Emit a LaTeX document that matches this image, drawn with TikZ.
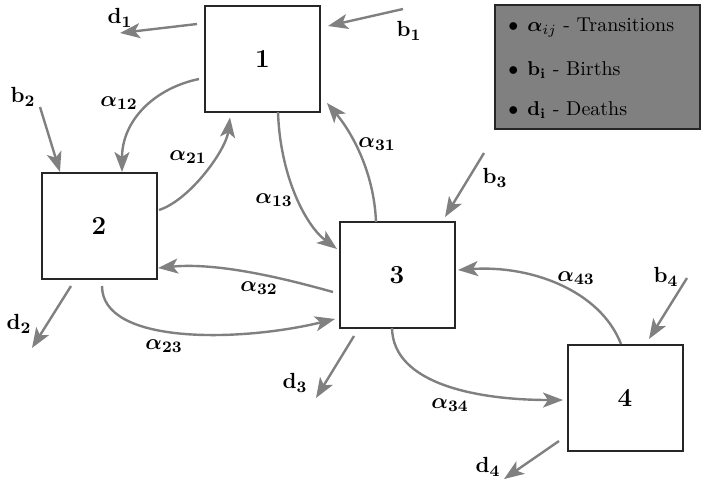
\documentclass[tikz,border=0pt]{standalone}
\usepackage{amsmath}
\usetikzlibrary{arrows.meta,calc}
\begin{document}
\begin{tikzpicture}[x=0.5pt,y=-0.5pt,
  box/.style={draw=black!85,line width=1pt,fill=white,minimum width=57.5pt,minimum height=53pt,inner sep=0pt,font=\fontsize{13}{15}\selectfont\bfseries},
  flow/.style={draw=black!50,line width=1.2pt,-{Stealth[length=10pt,width=7.5pt,inset=2.5pt]}},
  lab/.style={inner sep=0pt,font=\fontsize{11}{13}\selectfont},
  legendbox/.style={draw=black!85,line width=1pt,fill=black!50,minimum width=102.5pt,minimum height=62pt,inner sep=0pt},
  legitem/.style={anchor=west,inner sep=0pt,font=\fontsize{10}{12}\selectfont}]
\useasboundingbox (0,0) rectangle (706,484);
% boxes
\node[box] (n1) at (262.5,58.5) {1};
\node[box] (n2) at (99,226) {2};
\node[box] (n3) at (397,275) {3};
\node[box] (n4) at (625,398) {4};
% legend
\node[legendbox] (leg) at (597,67) {};
\node[legitem] (l1) at (508,28) {\makebox[9.5pt][l]{$\bullet$}$\boldsymbol{\alpha}_{ij}$ - Transitions};
\node[legitem] (l2) at (508,70) {\makebox[9.5pt][l]{$\bullet$}$\mathbf{b_i}$ - Births};
\node[legitem] (l3) at (508,110) {\makebox[9.5pt][l]{$\bullet$}$\mathbf{d_i}$ - Deaths};
% free ends
\coordinate (d1e) at (120,33);
\coordinate (b1s) at (403,9);
\coordinate (b2s) at (40,107);
\coordinate (b3s) at (484,153);
\coordinate (d2e) at (32,348);
\coordinate (d3e) at (316,398);
\coordinate (b4s) at (687,278);
\coordinate (d4e) at (504,479);
% births and deaths
\draw[flow] ($(n1.center)+(-65.5,-34.5)$) -- (d1e);
\draw[flow] (b1s) -- ($(n1.center)+(65.5,-32.5)$);
\draw[flow] (b2s) -- ($(n2.center)+(-39,-54)$);
\draw[flow] (b3s) -- ($(n3.center)+(48,-58)$);
\draw[flow] ($(n2.center)+(-28,60)$) -- (d2e);
\draw[flow] ($(n3.center)+(-43,61)$) -- (d3e);
\draw[flow] (b4s) -- ($(n4.center)+(24,-59)$);
\draw[flow] ($(n4.center)+(-66,43)$) -- (d4e);
% transitions
\draw[flow] ($(n1.center)+(-63.5,20.5)$) .. controls +(-44,9) and +(0,-52) .. ($(n2.center)+(23,-54)$);
\draw[flow] ($(n2.center)+(60,-16)$) .. controls +(31,-10) and +(-4,32.5) .. ($(n1.center)+(-32.5,59)$);
\draw[flow] ($(n1.center)+(15.5,53.5)$) .. controls +(2,63) and +(-32,-24) .. ($(n3.center)+(-60,-26)$);
\draw[flow] ($(n3.center)+(-21,-53)$) .. controls +(-2,-52) and +(23,27) .. ($(n1.center)+(64.5,44.5)$);
\draw[flow] ($(n3.center)+(-64,17)$) .. controls +(-43,-12) and +(62,-6) .. ($(n2.center)+(59,42)$);
\draw[flow] ($(n2.center)+(3,60)$) .. controls +(0,59) and +(-95,23) .. ($(n3.center)+(-62,44)$);
\draw[flow] ($(n3.center)+(-5,53)$) .. controls +(1,57) and +(-83,0) .. ($(n4.center)+(-62,2)$);
\draw[flow] ($(n4.center)+(-4,-54)$) .. controls +(-21,-54) and +(72,-5) .. ($(n3.center)+(61,-5)$);
% labels
\node[lab] (ld1) at (120,18) {$\mathbf{d_1}$};
\node[lab] (lb1) at (409,31) {$\mathbf{b_1}$};
\node[lab] (lb2) at (23,97) {$\mathbf{b_2}$};
\node[lab] (la12) at (119,103) {$\boldsymbol{\alpha}_{\mathbf{12}}$};
\node[lab] (la21) at (188,157) {$\boldsymbol{\alpha}_{\mathbf{21}}$};
\node[lab] (la13) at (274,200) {$\boldsymbol{\alpha}_{\mathbf{13}}$};
\node[lab] (la31) at (377,144) {$\boldsymbol{\alpha}_{\mathbf{31}}$};
\node[lab] (lb3) at (495,178) {$\mathbf{b_3}$};
\node[lab] (la32) at (259,288) {$\boldsymbol{\alpha}_{\mathbf{32}}$};
\node[lab] (la23) at (164,346) {$\boldsymbol{\alpha}_{\mathbf{23}}$};
\node[lab] (ld2) at (19,324) {$\mathbf{d_2}$};
\node[lab] (ld3) at (295,383) {$\mathbf{d_3}$};
\node[lab] (la34) at (450,405) {$\boldsymbol{\alpha}_{\mathbf{34}}$};
\node[lab] (la43) at (576,278) {$\boldsymbol{\alpha}_{\mathbf{43}}$};
\node[lab] (lb4) at (666,277) {$\mathbf{b_4}$};
\node[lab] (ld4) at (488,467) {$\mathbf{d_4}$};
\end{tikzpicture}
\end{document}
